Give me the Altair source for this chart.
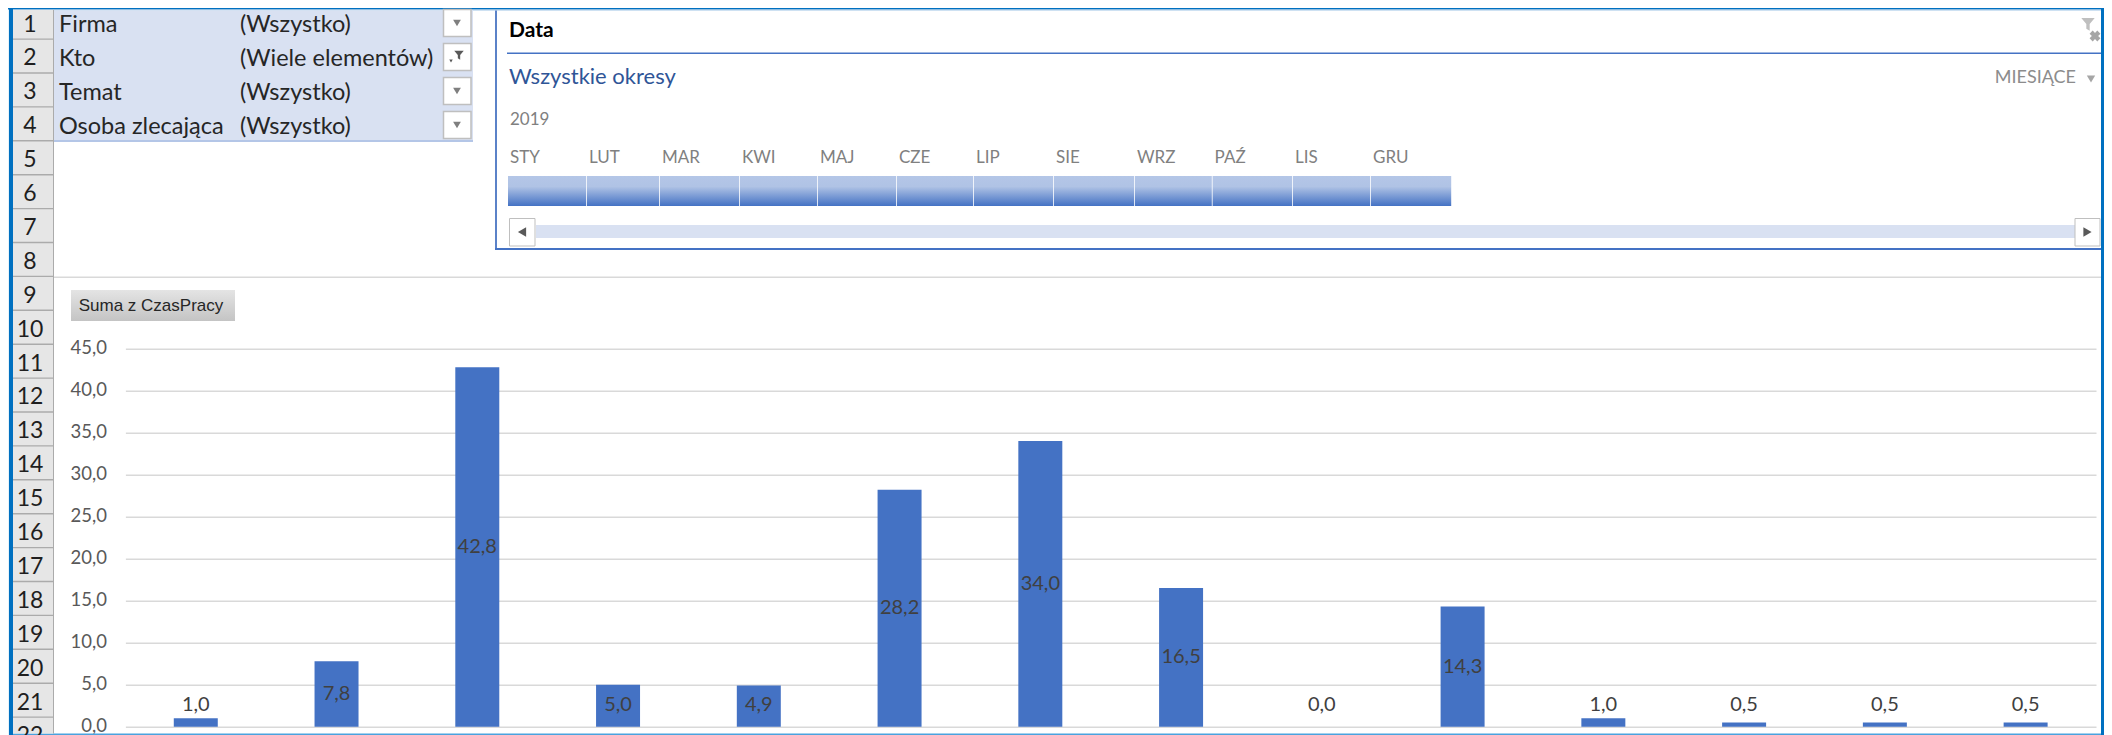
import altair as alt

# ---- chart data ----
categories = [str(i) for i in range(1, 15)]
values = [1.0, 7.8, 42.8, 5.0, 4.9, 28.2, 34.0, 16.5, 0.0, 14.3, 1.0, 0.5, 0.5, 0.5]
y_ticks = [0, 5, 10, 15, 20, 25, 30, 35, 40, 45]
filter_names = ["Firma", "Kto", "Temat", "Osoba zlecająca"]
filter_values = ["(Wszystko)", "(Wiele elementów)", "(Wszystko)", "(Wszystko)"]
months = ["STY", "LUT", "MAR", "KWI", "MAJ", "CZE", "LIP", "SIE", "WRZ", "PAŹ", "LIS", "GRU"]
row_numbers = list(range(1, 23))

# ---- layout ----
PX0, PY0 = 125.4, 348.7      # plot origin in page pixels
W, H = 1970.6, 378.0
RIGHT = 2104                 # last page pixel the chart can reach
month_edges = [508, 587, 660, 740, 818, 897, 974, 1054, 1135, 1212.6, 1293, 1371, 1452]
FONT = "Lato"
one = alt.Data(values=[{}])


def X(p):
    return p - PX0


def Y(p):
    return p - PY0


def rect(x0, y0, x1, y1, fill, **kw):
    return alt.Chart(one).mark_rect(fill=fill, **kw).encode(
        x=alt.value(X(x0)), x2=alt.value(X(x1)), y=alt.value(Y(y0)), y2=alt.value(Y(y1)))


def txt(s, x, y, size, color="#262626", align="left", weight="normal"):
    return alt.Chart(one).mark_text(font=FONT, fontSize=size, color=color, align=align,
                                    baseline="middle", fontWeight=weight).encode(
        x=alt.value(X(x)), y=alt.value(Y(y)), text=alt.value(s))


def icon(shape, x, y, size, color, **kw):
    return alt.Chart(one).mark_point(shape=shape, size=size, fill=color, filled=True,
                                     strokeWidth=0, opacity=1, **kw).encode(
        x=alt.value(X(x)), y=alt.value(Y(y)))


def vgrad(*stops):
    return alt.LinearGradient(gradient="linear",
                              stops=[alt.GradientStop(color=c, offset=o) for c, o in stops],
                              x1=0, x2=0, y1=0, y2=1)


FUNNEL = "M-1,-0.9 L1,-0.9 L0.25,0 L0.25,1 L-0.25,0.7 L-0.25,0 Z"
layers = []

# frame
layers += [
    rect(8, 8, 9, 735, "#E5F3FB"),
    rect(8, 8, RIGHT, 9.5, "#0070C0"),
    rect(9, 8, 13, 735, "#0070C0"),
    rect(RIGHT - 3, 8, RIGHT, 735, "#0070C0"),
    rect(13, 9.5, RIGHT - 3, 10.5, "#9DC3E6"),
    rect(13, 733.5, RIGHT - 3, 735, "#4AA3DF"),
    rect(13, 10, 53, 733.5, "#E6E6E6"),
    rect(53, 10, 54, 733.5, "#ABABAB"),
]
# row headers
for i, n in enumerate(row_numbers):
    yc = 23 + 33.9 * i
    if n < 22:
        layers.append(rect(13, yc + 15.4, 53, yc + 16.8, "#ABABAB"))
    layers.append(txt(str(n), 30, yc + 1.5, 23, "#1F1F1F", "center"))

# page-filter block
layers.append(rect(54, 10.5, 473, 140, "#D9E1F2"))
layers.append(rect(54, 140, 473, 142, "#B4C6E7"))
for i, (a, b) in enumerate(zip(filter_names, filter_values)):
    yc = 24 + 34 * i
    layers.append(txt(a, 59, yc + 1, 23.5, "#262626"))
    layers.append(txt(b, 240, yc + 1, 23.5, "#262626"))
    layers.append(alt.Chart(one).mark_rect(fill="#FFFFFF", stroke="#BFBFBF", strokeWidth=1.5).encode(
        x=alt.value(X(443.5)), x2=alt.value(X(471)), y=alt.value(Y(yc - 14.5)), y2=alt.value(Y(yc + 12.5))))
    if i == 1:
        layers.append(icon(FUNNEL, 459, 55, 90, "#595959"))
        layers.append(icon("triangle-down", 451, 61, 12, "#595959"))
    else:
        layers.append(icon("triangle-down", 457, yc - 1, 60, "#7F7F7F"))

# separator line above chart
layers.append(rect(54, 276.5, RIGHT - 3, 278, "#D9D9D9"))

# timeline slicer
layers += [
    rect(495, 10.5, 497, 249, "#5B82C8"),
    rect(495, 248, RIGHT - 3, 250, "#4472C4"),
    rect(507, 52.5, RIGHT - 3, 54, "#4472C4"),
    txt("Data", 509, 31, 21, "#000000", weight="bold"),
    txt("Wszystkie okresy", 509, 77, 22, "#2F5597"),
    txt("MIESIĄCE", 2076, 78, 18, "#8C8C8C", "right"),
    icon("triangle-down", 2091, 79, 70, "#A6A6A6"),
    txt("2019", 510, 120, 17, "#808080"),
    icon(FUNNEL, 2088, 24, 180, "#BFBFBF"),
    icon("cross", 2095, 36, 120, "#A6A6A6", angle=45),
]
grad = vgrad(("#B4C6E7", 0), ("#B0C3E5", 0.35), ("#4472C4", 1))
for i, m in enumerate(months):
    layers.append(txt(m, month_edges[i] + 2, 158, 17, "#808080"))
    layers.append(rect(month_edges[i], 176, month_edges[i + 1] - 0.8, 206, grad))
layers += [
    rect(536, 225, 2075, 238, "#D9E1F2"),
    alt.Chart(one).mark_rect(fill="#FFFFFF", stroke="#BFBFBF", strokeWidth=1).encode(
        x=alt.value(X(509.5)), x2=alt.value(X(535)), y=alt.value(Y(218.5)), y2=alt.value(Y(246))),
    alt.Chart(one).mark_rect(fill="#FFFFFF", stroke="#BFBFBF", strokeWidth=1).encode(
        x=alt.value(X(2075)), x2=alt.value(X(2100)), y=alt.value(Y(218.5)), y2=alt.value(Y(246))),
    icon("triangle-left", 522, 232, 90, "#595959"),
    icon("triangle-right", 2087.5, 232, 90, "#595959"),
]

# field button
btn = vgrad(("#E4E4E4", 0), ("#C4C4C4", 1))
layers.append(rect(71, 290, 235, 321, btn))
layers.append(alt.Chart(one).mark_text(font="Liberation Sans", fontSize=17, color="#262626", align="center",
                                       baseline="middle").encode(
    x=alt.value(X(151)), y=alt.value(Y(306)), text=alt.value("Suma z CzasPracy")))

# ---- the actual bar chart ----
table = alt.Data(values=[{"cat": c, "val": v} for c, v in zip(categories, values)])
xs = alt.X("cat:N", sort=categories, axis=None,
           scale=alt.Scale(paddingInner=0.6875, paddingOuter=0.34375, round=False))
ys = alt.Scale(domain=[0, 45], nice=False)
axis = alt.Axis(values=y_ticks, title=None, domain=False, ticks=False, grid=True,
                gridColor="#D9D9D9", gridWidth=1.5, labelFont=FONT, labelFontSize=18.5,
                labelColor="#595959", labelPadding=19, labelOffset=-1,
                labelExpr="replace(format(datum.value, '.1f'), '.', ',')")
bars = alt.Chart(table).mark_bar(color="#4472C4").encode(
    x=xs, y=alt.Y("val:Q", scale=ys, axis=axis))
labels = alt.Chart(table).transform_calculate(
    lab="replace(format(datum.val, '.1f'), '.', ',')",
    pos="max(datum.val / 2, 2.6)",
).mark_text(font=FONT, fontSize=20, color="#404040", baseline="middle").encode(
    x=xs, y=alt.Y("pos:Q", scale=ys, axis=axis), text="lab:N")
layers += [bars, labels]

chart = alt.layer(*layers).properties(
    width=W, height=H,
    autosize=alt.AutoSizeParams(type="none"),
    padding={"left": PX0 - 8, "top": PY0 - 8, "right": RIGHT - PX0 - W, "bottom": 735 - PY0 - H},
    background="#FFFFFF",
).configure_view(stroke=None)

chart.save("out.html", embed_options={"renderer": "svg", "actions": False})
